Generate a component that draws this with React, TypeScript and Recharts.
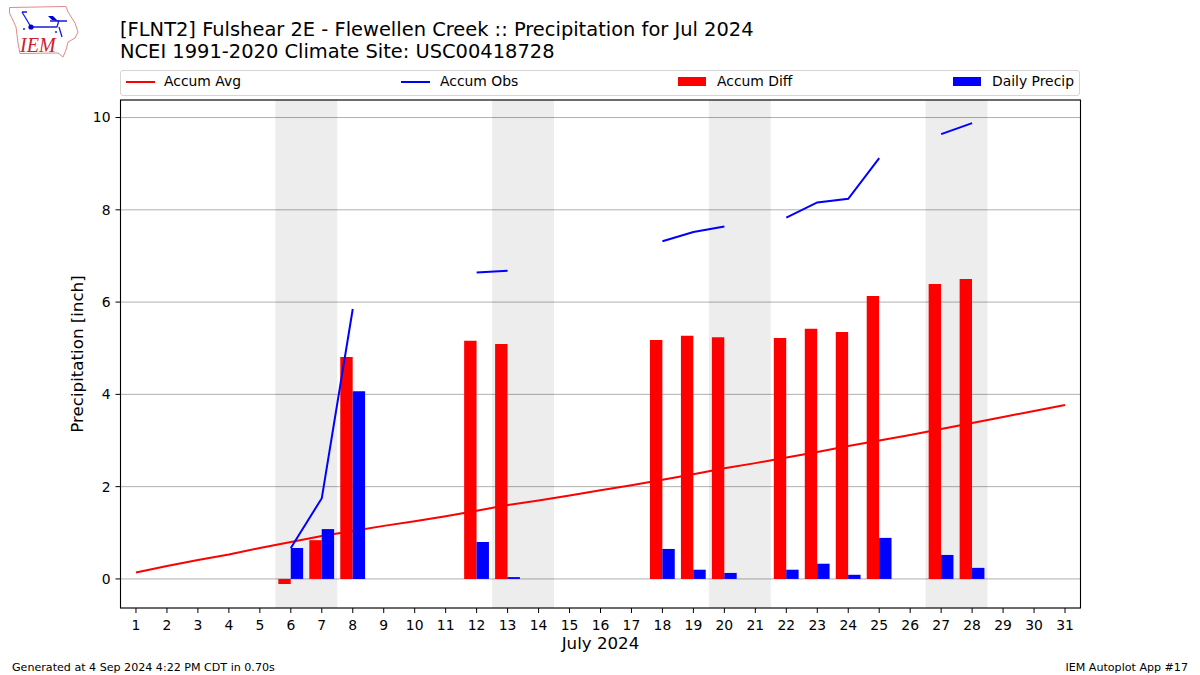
import React from 'react';
import { ComposedChart, Bar, Line, XAxis, YAxis, CartesianGrid, ReferenceArea, Legend, Label } from 'recharts';

const days = [1,2,3,4,5,6,7,8,9,10,11,12,13,14,15,16,17,18,19,20,21,22,23,24,25,26,27,28,29,30,31];
const accumAvg = [0.14,0.28,0.41,0.53,0.67,0.80,0.93,1.04,1.15,1.25,1.36,1.48,1.60,1.70,1.81,1.92,2.03,2.15,2.27,2.40,2.51,2.63,2.75,2.88,3.00,3.12,3.25,3.38,3.51,3.64,3.77];
const accumObs = [null,null,null,null,null,0.67,1.75,5.85,null,null,null,6.64,6.68,null,null,null,null,7.32,7.52,7.64,null,7.83,8.16,8.24,9.12,null,9.64,9.88,null,null,null];
const accumDiff = [null,null,null,null,null,-0.11,0.84,4.81,null,null,null,5.16,5.09,null,null,null,null,5.18,5.27,5.24,null,5.22,5.42,5.35,6.13,null,6.39,6.50,null,null,null];
const dailyPrecip = [null,null,null,null,null,0.67,1.08,4.07,null,null,null,0.80,0.04,null,null,null,null,0.65,0.20,0.13,null,0.20,0.33,0.09,0.89,null,0.52,0.24,null,null,null];
const weekends: [number, number][] = [[5.5,7.5],[12.5,14.5],[19.5,21.5],[26.5,28.5]];
const yTicks = [0,2,4,6,8,10];

const titleLines = ['[FLNT2] Fulshear 2E - Flewellen Creek :: Precipitation for Jul 2024', 'NCEI 1991-2020 Climate Site: USC00418728'];
const legendItems = [
  { name: 'Accum Avg', color: '#ff0000', kind: 'line', left: 5, textLeft: 44 },
  { name: 'Accum Obs', color: '#0000ff', kind: 'line', left: 280, textLeft: 320 },
  { name: 'Accum Diff', color: '#ff0000', kind: 'bar', left: 558, textLeft: 597 },
  { name: 'Daily Precip', color: '#0000ff', kind: 'bar', left: 833, textLeft: 872 },
];

const data = days.map((d, i) => ({ day: d, avg: accumAvg[i], obs: accumObs[i], diff: accumDiff[i], daily: dailyPrecip[i] }));
const FONT = '"DejaVu Sans", sans-serif';

const LegendBox = () => (
  <div style={{ position: 'relative', width: 960, height: 26, boxSizing: 'border-box', border: '1px solid #d5d5d5', borderRadius: 3, background: '#fff', fontFamily: FONT, fontSize: 13.9, color: '#000' }}>
    {legendItems.map((it) => (
      <React.Fragment key={it.name}>
        {it.kind === 'line'
          ? <div style={{ position: 'absolute', left: it.left, top: 9.5, width: 29, height: 2, background: it.color }} />
          : <div style={{ position: 'absolute', left: it.left - 1, top: 6, width: 28, height: 9, background: it.color }} />}
        <div style={{ position: 'absolute', left: it.textLeft - 1, top: 1, lineHeight: '18px', whiteSpace: 'nowrap' }}>{it.name}</div>
      </React.Fragment>
    ))}
  </div>
);

const Logo = () => (
  <svg width={90} height={62} style={{ position: 'absolute', left: 0, top: 0 }}>
    <path d="M9.5 7.5 L66 6.5 L68 12 L75 23 L78 32 L75 38 L68 42 L66 50 L63 57 L58 53 L20 53.5 L18 43 L16 27 L9.5 13 Z" fill="none" stroke="#e08a8a" strokeWidth={1} />
    <path d="M31 27 L57 27 M31 27 L22 12 M22 12 L27 12 M57 27 L59 20 M50 21 L67 21 M59 27 L62 37" fill="none" stroke="#1a1ae0" strokeWidth={1.3} />
    <circle cx={31} cy={27} r={2.6} fill="#0000d0" />
    <path d="M48 16 L53 16 L58 21 L52 20 Z" fill="#0000d0" />
    <circle cx={24} cy={29} r={1} fill="#1a1ae0" />
    <circle cx={56} cy={32} r={1} fill="#1a1ae0" />
    <text x={20} y={52} fontFamily='"Liberation Serif", serif' fontStyle="italic" fontSize={20} fill="#cc2030">IEM</text>
  </svg>
);

export default function App() {
  return (
    <div style={{ position: 'absolute', left: 0, top: 0, width: 1200, height: 675, background: '#fff', overflow: 'hidden', fontFamily: FONT }}>
      <ComposedChart width={1200} height={675} data={data} barGap={0} margin={{ top: 100, right: 119.5, bottom: 0, left: 60.5 }}>
        <XAxis dataKey="day" type="number" domain={[0.5, 31.5]} ticks={days} interval={0} height={67} tickSize={5} axisLine={false}
          tick={{ fill: '#000', fontSize: 13.9, fontFamily: FONT }} tickLine={{ stroke: '#000', strokeWidth: 1 }} tickMargin={7}>
          <Label value="July 2024" position="insideBottom" offset={26} style={{ fontSize: 16.67, fontFamily: FONT, fill: '#000' }} />
        </XAxis>
        <YAxis type="number" domain={[-0.63, 10.38]} ticks={yTicks} width={60} tickSize={5} axisLine={false} interval={0}
          tick={{ fill: '#000', fontSize: 13.9, fontFamily: FONT }} tickLine={{ stroke: '#000', strokeWidth: 1 }} tickMargin={5}>
          <Label value="Precipitation [inch]" angle={-90} position="insideLeft" offset={17} style={{ fontSize: 16.67, fontFamily: FONT, fill: '#000', textAnchor: 'middle' }} />
        </YAxis>
        {weekends.map(([a, b]) => (
          <ReferenceArea key={a} x1={a} x2={b} fill="#000" fillOpacity={0.07} stroke="none" />
        ))}
        <CartesianGrid horizontal vertical={false} stroke="#b0b0b0" strokeWidth={1} />
        <Line dataKey="avg" stroke="#ff0000" strokeWidth={2} dot={false} isAnimationActive={false} zIndex={250} />
        <Bar dataKey="diff" fill="#ff0000" barSize={12.4} isAnimationActive={false} zIndex={300} />
        <Line dataKey="obs" stroke="#0000ff" strokeWidth={2} dot={false} isAnimationActive={false} connectNulls={false} zIndex={400} />
        <Bar dataKey="daily" fill="#0000ff" barSize={12.4} isAnimationActive={false} zIndex={450} />
        <ReferenceArea x1={0.5} x2={31.5} y1={-0.63} y2={10.38} fill="none" stroke="#000" strokeWidth={1.1} zIndex={500} />
        <Legend content={<LegendBox />} wrapperStyle={{ position: 'absolute', left: 120, top: 70, width: 960, height: 0, overflow: 'visible' }} />
      </ComposedChart>
      <Logo />
      <div style={{ position: 'absolute', left: 120, top: 18.5, fontSize: 19.46, lineHeight: '22px', color: '#000', whiteSpace: 'nowrap' }}>
        {titleLines.map((t) => <div key={t}>{t}</div>)}
      </div>
      <div style={{ position: 'absolute', left: 12, top: 661, fontSize: 11.1, lineHeight: '13px', color: '#000' }}>Generated at 4 Sep 2024 4:22 PM CDT in 0.70s</div>
      <div style={{ position: 'absolute', right: 12, top: 661, fontSize: 11.1, lineHeight: '13px', color: '#000' }}>IEM Autoplot App #17</div>
    </div>
  );
}
